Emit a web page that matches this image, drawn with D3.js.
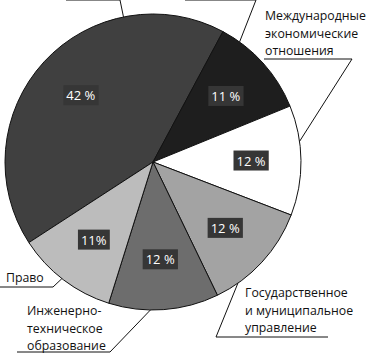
<!DOCTYPE html>
<html>
<head>
<meta charset="utf-8">
<script src="https://cdn.jsdelivr.net/npm/d3@7"></script>
<style>
  body { margin: 0; background: #fff; }
  svg { display: block; }
  text { font-family: "Open Sans", "Noto Sans", sans-serif; }
</style>
</head>
<body>
<div id="chart"></div>
<script>
// Data
var values = [42, 11, 12, 12, 12, 11];
var valueLabels = ["42 %", "11 %", "12 %", "12 %", "12 %", "11%"];
// first two category names are cut off at the top of the picture
var categories = [
  [],
  [],
  ["Международные", "экономические", "отношения"],
  ["Государственное", "и муниципальное", "управление"],
  ["Инженерно-", "техническое", "образование"],
  ["Право"]
];
var fills = ["#404040", "#1e1e1e", "#ffffff", "#a3a3a3", "#6d6d6d", "#bcbcbc"];

var width = 370;
var height = 353;
var cx = 153, cy = 162, radius = 148;

// label layout: text block left x, first baseline, underline span, leader angle (deg)
var labelLayout = [
  { x: 68, y: -40, ux0: 66, ux1: 120, uy: 0, side: "right", angle: -11.5 },
  { x: 187, y: -40, ux0: 185, ux1: 256, uy: 0, side: "right", angle: 35.8 },
  { x: 265, y: 20, ux0: 264, ux1: 352, uy: 59, side: "right", angle: 82 },
  { x: 245, y: 297, ux0: 216, ux1: 328, uy: 337, side: "left", angle: 145 },
  { x: 27, y: 315, ux0: 17, ux1: 110, uy: 352, side: "right", angle: 181 },
  { x: 6, y: 282, ux0: 0, ux1: 53, uy: 287, side: "right", angle: 218 }
];

var svg = d3.select("#chart")
  .append("svg")
  .attr("width", width)
  .attr("height", height);

var g = svg.append("g")
  .attr("transform", "translate(" + cx + "," + cy + ")");

var pie = d3.pie()
  .sort(null)
  .startAngle(-123 * Math.PI / 180)
  .endAngle(237 * Math.PI / 180)
  .value(d => d);

var arcs = pie(values);

var arc = d3.arc()
  .innerRadius(0)
  .outerRadius(radius);

var labelArc = d3.arc()
  .innerRadius(98)
  .outerRadius(98);

// Slices
g.selectAll("path.slice")
  .data(arcs)
  .enter().append("path")
  .attr("class", "slice")
  .attr("d", arc)
  .attr("fill", (d, i) => fills[i])
  .attr("stroke", "#111")
  .attr("stroke-width", 1);

// Percent labels with dark boxes
var pct = g.selectAll("g.pct")
  .data(arcs)
  .enter().append("g")
  .attr("class", "pct")
  .attr("transform", d => "translate(" + labelArc.centroid(d) + ")");

pct.append("text")
  .attr("text-anchor", "middle")
  .attr("dy", "0.35em")
  .attr("font-size", 13)
  .attr("fill", "#fff")
  .text((d, i) => valueLabels[i])
  .each(function() {
    var b = this.getBBox();
    d3.select(this.parentNode).insert("rect", "text")
      .attr("x", b.x - 3)
      .attr("y", b.y - 1)
      .attr("width", b.width + 6)
      .attr("height", b.height + 2)
      .attr("fill", "#363636");
  });

// Category labels with underline and leader line
var lab = svg.selectAll("g.cat")
  .data(labelLayout)
  .enter().append("g")
  .attr("class", "cat");

lab.append("text")
  .attr("font-size", 12.3)
  .attr("fill", "#111")
  .each(function(d, i) {
    d3.select(this).selectAll("tspan")
      .data(categories[i])
      .enter().append("tspan")
      .attr("x", d.x)
      .attr("y", (t, j) => d.y + j * 17.5)
      .text(t => t);
  });

lab.append("polyline")
  .attr("fill", "none")
  .attr("stroke", "#111")
  .attr("stroke-width", 1)
  .attr("points", d => {
    var a = d.angle * Math.PI / 180;
    var px = cx + radius * Math.sin(a);
    var py = cy - radius * Math.cos(a);
    var near = d.side === "right" ? d.ux1 : d.ux0;
    var far = d.side === "right" ? d.ux0 : d.ux1;
    return [[far, d.uy], [near, d.uy], [px, py]].join(" ");
  });
</script>
</body>
</html>
